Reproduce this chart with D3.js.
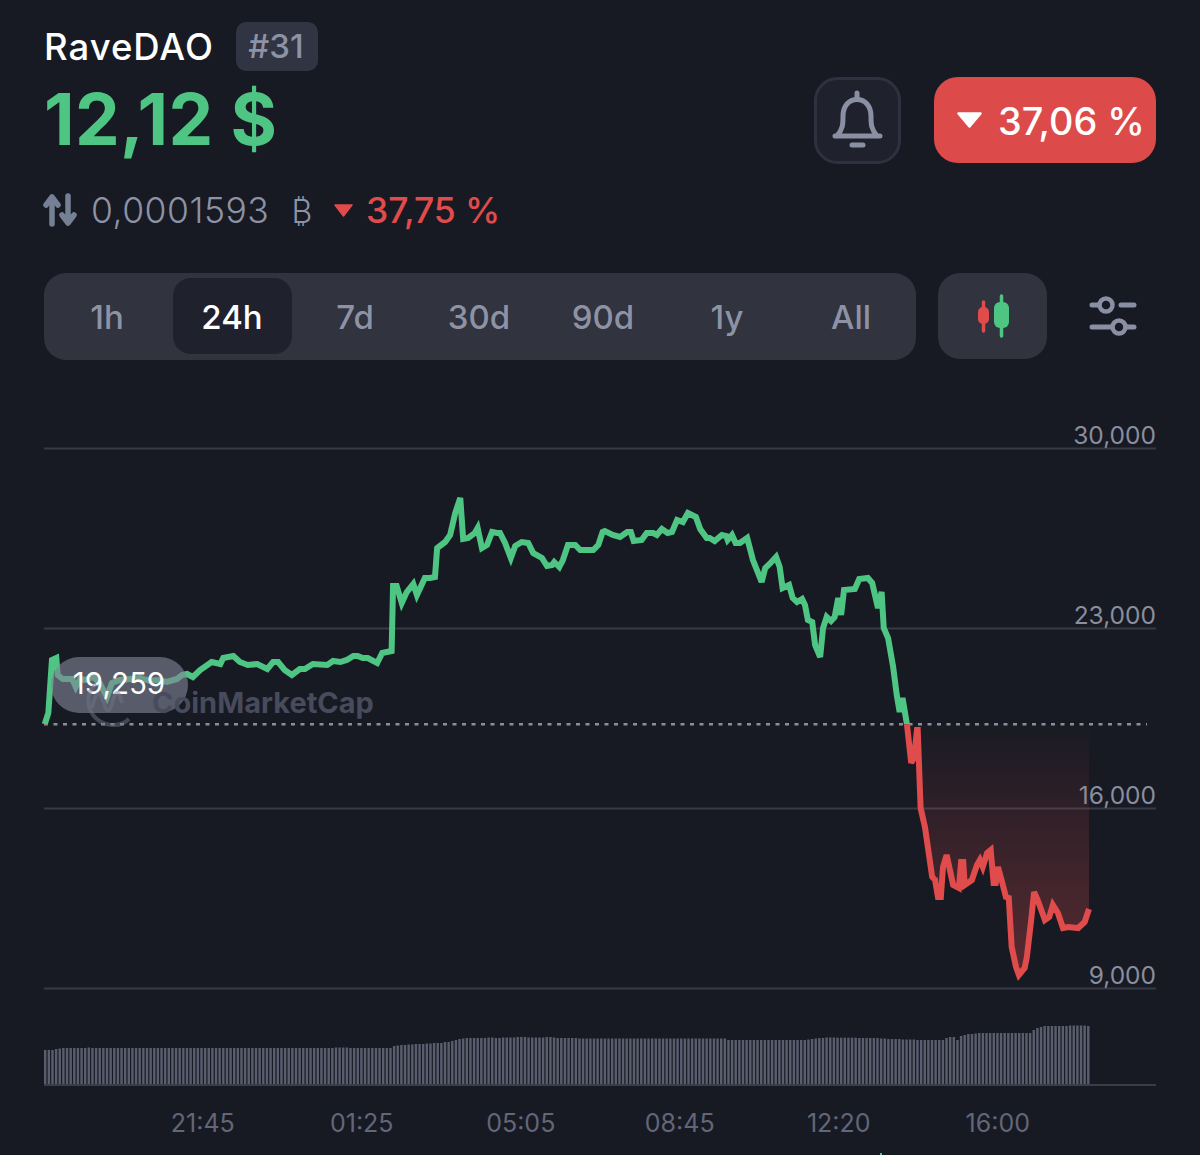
<!DOCTYPE html>
<html><head><meta charset="utf-8"><title>RaveDAO</title>
<script src="https://cdn.jsdelivr.net/npm/d3@7"></script>
<style>html,body{margin:0;padding:0;background:#171a23;overflow:hidden}svg{display:block}text{font-family:Inter,"Noto Sans",sans-serif}</style>
</head><body><div id="chart"></div>
<script>
// ---------- data ----------
const priceMinutes = [1,6,11,17,19,26,39,44,50,57,68,77,87,94,105,119,133,147,156,170,184,191,198,206,216,232,244,248,262,271,282,295,309,317,324,333,343,354,361,372,392,400,410,419,428,434,441,448,461,468,481,483,488,495,502,511,516,527,534,541,544,555,562,569,576,580,587,596,600,606,613,620,627,631,638,646,652,661,670,677,689,696,703,706,713,718,725,735,742,760,767,773,776,787,797,807,812,816,827,834,843,848,855,863,869,876,884,891,902,908,917,921,928,938,944,946,952,957,963,973,981,993,998,1004,1013,1018,1022,1031,1036,1042,1049,1053,1057,1063,1067,1074,1078,1083,1089,1094,1099,1103,1107,1122,1128,1140,1146,1154,1159,1162,1168,1175,1180,1184,1188,1194,1200,1204,1208,1209,1213,1219,1229,1233,1237,1241,1244,1249,1258,1266,1269,1272,1274,1284,1291,1295,1299,1305,1310,1314,1317,1320,1325,1331,1335,1339,1345,1349,1357,1360,1366,1370,1375,1385,1391,1396,1403,1410,1417,1431,1440,1446];
const priceValues = [19259,19694,21756,21833,21172,21017,21017,20706,21017,20978,21094,20861,20317,20861,20978,21017,21056,20939,20978,20900,21017,21172,21211,21094,21367,21678,21600,21833,21911,21678,21561,21600,21406,21678,21678,21367,21172,21406,21406,21600,21561,21717,21678,21756,21911,21911,21833,21833,21639,22028,22106,24633,24633,23972,24400,24711,24283,24944,24944,24983,26111,26344,26617,27472,28056,26461,26500,26694,26889,26111,26228,26733,26694,26694,26306,25722,26189,26344,26306,25917,25722,25411,25450,25567,25372,25644,26228,26228,26033,26033,26228,26733,26772,26617,26539,26733,26733,26383,26422,26694,26694,26617,26850,26694,26733,27200,27122,27472,27317,26850,26500,26500,26383,26617,26578,26422,26617,26306,26306,26500,25644,24789,25333,25489,25761,25372,24556,24672,24167,24011,24128,23894,23311,23233,22339,21872,23000,23428,23272,23428,24167,23506,24478,24517,24906,24944,24750,23778,24400,23000,22611,21483,20394,19733,20278,19267,17750,17983,19033,19033,16000,15261,13317,13200,12539,12539,13706,14172,13006,12889,13900,13900,13006,13200,13783,13978,13706,14250,14367,13083,13083,13706,13200,12539,12500,10594,9817,9506,9778,10206,11644,12733,12422,11644,11761,12228,11917,11333,11372,11333,11567,12072];
const openPrice = 19259;
const priceTicks = [30000,23000,16000,9000];
const timeTickMinutes = [219,439,659,879,1099,1319];
const timeTickLabels = ["21:45","01:25","05:05","08:45","12:20","16:00"];
const volumeValues = [
35,35,35,36,36.5,37,37,37,37,37,37,37,37.5,37,37,37,37,37,37,37,37,37,37,37,37,37,37,37,37,37,
37,37,37,37,37,37,37,37,37,37,37,37,37,37,37,37,37,37,37,37,37,37,37,37,37,37,37,37,37,37,
37,37,37,37,37,37,37,37,37,37,37,37,37,37,37,37,37,37,37,37,37.5,37.5,37.5,37.5,37,37,37,37,37,37,
37,37,37,37,37,37,39,39.5,40,40,40.5,40.5,41,41,41,41.5,41.5,42,42,42,43,43,44,45,46,46.5,47,47,47,47,
47,47,47.5,47.5,47,47,47.5,47.5,47.5,47.5,48,48,48,47.5,47.5,47.5,47.5,47.5,48,48,47.5,47,47,47,47,47,47,46.5,46.5,46.5,
46.5,46.5,46.5,46.5,46.5,46.5,46.5,46.5,46.5,46.5,46.5,46.5,46.5,46.5,46.5,46.5,46.5,46.5,46.5,46.5,46.5,46.5,46.5,46.5,46.5,46.5,46.5,46.5,46.5,46.5,
46.5,46.5,46.5,46.5,46.5,46.5,46.5,46.5,45,45,45,45,45,45,45,45,45,45,45,45,45,45,45,45,45,45,45,45,45,45,
45.5,46,46.5,47,47,47.5,47.5,47.5,47.3,47.3,47.3,47.3,47.3,47.3,47,47,47,47,47,47,46.5,46.5,46,46,46,46,45.5,45.5,45.5,45.5,
45,45,45,45,45,45,45,45,47,48,48,45,49,50,51,51,51.5,52,52,52,52,52,52,52,52,52,52,52,52,52,
52,52,55,57,58,59,59,59,59,59,59,59,59.5,59.5,59.5,59.5,59.5,59
];

// ---------- colours ----------
const GREEN="#4fc584", RED="#e04b4b", MUTED="#8d92a5", PANEL="#31333f", DARK="#1f212c";

const svg=d3.select("#chart").append("svg").attr("width",1200).attr("height",1155).attr("viewBox","0 0 1200 1155");
const defs=svg.append("defs");
svg.append("rect").attr("width",1200).attr("height",1155).attr("fill","#171a23");

function label(x,y,t,size,fill,weight,anchor){
  return svg.append("text").attr("x",x).attr("y",y).attr("font-size",size).attr("fill",fill)
    .attr("font-weight",weight||400).attr("text-anchor",anchor||"start").text(t);
}
function box(x,y,w,h,r,fill){
  return svg.append("rect").attr("x",x).attr("y",y).attr("width",w).attr("height",h).attr("rx",r).attr("fill",fill);
}

// ---------- header ----------
label(44,60,"RaveDAO",36.5,"#fff",500).attr("letter-spacing",1);
box(236,22,82,49,10,"#313442");
label(276,58,"#31",33,MUTED,500,"middle");
label(44,145,"12,12 $",71,GREEN,700).attr("letter-spacing",0.3);

// exchange icon
svg.append("path").attr("d","M52 224V198M46 205l6-8 6 8").attr("fill","none").attr("stroke","#768095").attr("stroke-width",5.5).attr("stroke-linecap","round").attr("stroke-linejoin","round");
svg.append("path").attr("d","M68 196V222M62 215l6 8 6-8").attr("fill","none").attr("stroke","#768095").attr("stroke-width",5.5).attr("stroke-linecap","round").attr("stroke-linejoin","round");
label(91,223,"0,0001593",35.5,MUTED,300).attr("letter-spacing",0.5);
label(302,223,"₿",32,MUTED,300,"middle");
svg.append("path").attr("d","M335 205H352L343.500 216Z").attr("fill",RED).attr("stroke",RED).attr("stroke-width",1.500).attr("stroke-linejoin","round");
label(366,223,"37,75 %",35.5,RED,500).attr("letter-spacing",-0.1);

// bell
box(815.500,78.500,84,84,22,DARK).attr("stroke","#2f3140").attr("stroke-width",3);
svg.append("path").attr("d","M857 93V99M837 136C843 129 843 124 843 116C843 106 849 99.500 857 99.500C865 99.500 871 106 871 116C871 124 871 129 877 136M835 136H880M852 145H863")
  .attr("fill","none").attr("stroke","#8a8fa3").attr("stroke-width",5).attr("stroke-linecap","round").attr("stroke-linejoin","round");

// change button
box(934,77,222,86,24,"#dd4a4a");
svg.append("path").attr("d","M958.500 113.500H980.500L969.500 126.500Z").attr("fill","#fff").attr("stroke","#fff").attr("stroke-width",2.500).attr("stroke-linejoin","round");
label(998,135,"37,06 %",37.8,"#fff",500);

// ---------- range tabs ----------
const tabNames=["1h","24h","7d","30d","90d","1y","All"];
const tabCenters=[107,232,355,479,603,727,851];
box(44,273,872,87,22,PANEL);
box(173,278,119,76,18,DARK);
tabNames.forEach((t,i)=>label(tabCenters[i],328.5,t,33,i===1?"#fff":MUTED,500,"middle"));

// candle button
box(938,273,109,86,22,PANEL);
svg.append("path").attr("d","M983.500 302V331").attr("stroke",RED).attr("stroke-width",3.500).attr("stroke-linecap","round");
box(978,307,11,17,5,RED);
svg.append("path").attr("d","M1001.500 296V336").attr("stroke",GREEN).attr("stroke-width",3.500).attr("stroke-linecap","round");
box(994,302,15,26,6,GREEN);

// sliders
svg.append("path").attr("d","M1092 305H1099M1121 305H1134M1092 327H1112M1126 327H1134").attr("stroke","#8a8fa3").attr("stroke-width",5).attr("stroke-linecap","round");
svg.append("circle").attr("cx",1106).attr("cy",305).attr("r",6.500).attr("fill","none").attr("stroke","#8a8fa3").attr("stroke-width",4.500);
svg.append("circle").attr("cx",1119).attr("cy",327).attr("r",6.500).attr("fill","none").attr("stroke","#8a8fa3").attr("stroke-width",4.500);

// ---------- scales ----------
const x=d3.scaleLinear().domain([0,1446]).range([44,1089]);
const y=d3.scaleLinear().domain([9000,30000]).range([988,448]);
const points=priceMinutes.map((m,i)=>({m,v:priceValues[i]}));

// ---------- price axis ----------
const yAxis=d3.axisRight(y).tickValues(priceTicks).tickFormat(d3.format(",")).tickSize(-1112).tickPadding(0);
const yg=svg.append("g").attr("transform","translate(1156,0)").call(yAxis);
yg.select(".domain").remove();
yg.selectAll("line").attr("stroke","#383a48").attr("stroke-width",2);
yg.selectAll("text").attr("x",0).attr("dy",-5).attr("text-anchor","end").attr("font-size",24.500).attr("fill","#8a8e9e").attr("font-family",'Inter,"Noto Sans",sans-serif');

// ---------- clip regions either side of the open price ----------
defs.append("clipPath").attr("id","above").append("rect").attr("x",0).attr("y",0).attr("width",1200).attr("height",y(openPrice));
defs.append("clipPath").attr("id","below").append("rect").attr("x",0).attr("y",y(openPrice)).attr("width",1200).attr("height",600);
const grad=defs.append("linearGradient").attr("id","fade").attr("gradientUnits","userSpaceOnUse").attr("x1",0).attr("x2",0).attr("y1",y(openPrice)).attr("y2",y(10500));
grad.append("stop").attr("offset",0).attr("stop-color",RED).attr("stop-opacity",0.01);
grad.append("stop").attr("offset",1).attr("stop-color",RED).attr("stop-opacity",0.3);

// area between open price and line
const area=d3.area().x(d=>x(d.m)).y0(y(openPrice)).y1(d=>y(d.v));
svg.append("path").datum(points.filter(d=>d.v<openPrice+10)).attr("d",area).attr("fill","url(#fade)");

// open price dotted line
svg.append("line").attr("x1",x(0)).attr("x2",1147).attr("y1",y(openPrice)).attr("y2",y(openPrice))
  .attr("stroke","#8b8d99").attr("stroke-width",2.500).attr("stroke-dasharray","4 5.500");

// price line
const line=d3.line().x(d=>x(d.m)).y(d=>y(d.v));
[["above",GREEN],["below",RED]].forEach(([c,col])=>{
  svg.append("path").datum(points).attr("d",line).attr("clip-path",`url(#${c})`)
    .attr("fill","none").attr("stroke",col).attr("stroke-width",6).attr("stroke-linejoin","miter").attr("stroke-miterlimit",3);
});

// open price pill
box(51,657,137,56,28,"rgba(128,132,150,0.62)");
label(119,694,d3.format(",")(openPrice),29.500,"#fff",400,"middle");

// watermark
const wm="rgba(112,116,134,0.5)";
svg.append("path").attr("d","M129 719C120 728 102 727 93 715C85 703 88 690 96 684").attr("fill","none").attr("stroke",wm).attr("stroke-width",4);
svg.append("path").attr("d","M92 708C96 690 100 690 104 703C107 714 110 712 113 700C116 690 119 691 122 703").attr("fill","none").attr("stroke",wm).attr("stroke-width",4);
label(152,713,"CoinMarketCap",29,"#484b5c",700);

// ---------- volume ----------
const vx=d3.scaleBand().domain(d3.range(volumeValues.length)).range([44,1089.500]).paddingInner(0.33).paddingOuter(0);
const vy=d3.scaleLinear().domain([0,60]).range([1085,1025]);
svg.append("g").selectAll("rect").data(volumeValues).join("rect")
  .attr("x",(d,i)=>vx(i)).attr("width",vx.bandwidth()).attr("y",d=>vy(d)).attr("height",d=>vy(0)-vy(d)).attr("fill","#5a5d6d");
svg.append("line").attr("x1",44).attr("x2",1156).attr("y1",1085).attr("y2",1085).attr("stroke","#3a3c4a").attr("stroke-width",2);

// ---------- time axis ----------
const xAxis=d3.axisBottom(x).tickValues(timeTickMinutes).tickFormat((d,i)=>timeTickLabels[i]).tickSize(0).tickPadding(0);
const xg=svg.append("g").attr("transform","translate(0,1132)").call(xAxis);
xg.select(".domain").remove();
xg.selectAll("text").attr("y",0).attr("dy",0).attr("font-size",25).attr("fill","#626678").attr("font-family",'Inter,"Noto Sans",sans-serif');

// sliver of the next section at the bottom edge
svg.append("rect").attr("x",880).attr("y",1153).attr("width",2).attr("height",2).attr("fill",GREEN);
</script></body></html>
